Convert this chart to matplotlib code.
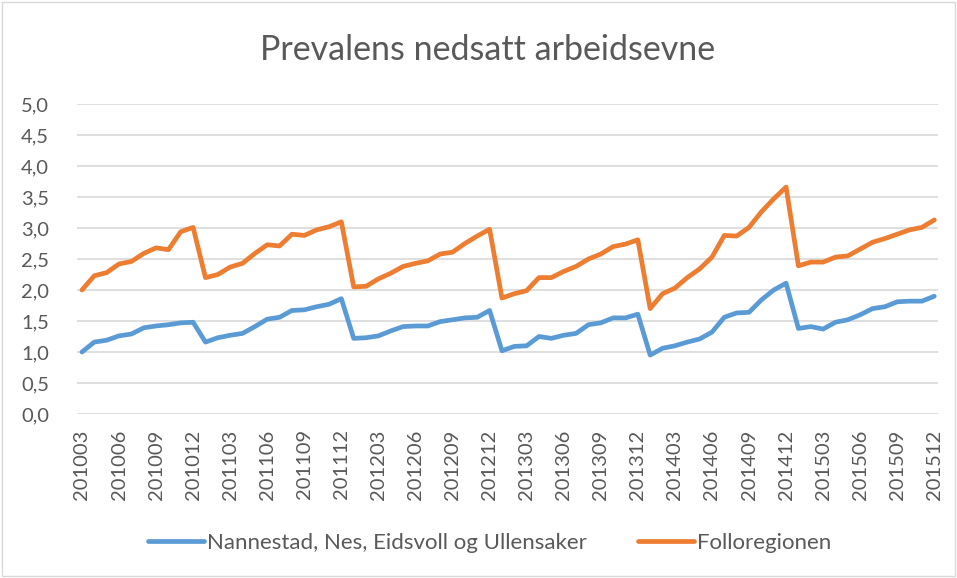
import matplotlib
matplotlib.use("Agg")
import matplotlib.pyplot as plt
from matplotlib.patches import Rectangle

# months 201003 .. 201512
months = []
for y in range(2010, 2016):
    for m in range(1, 13):
        if y == 2010 and m < 3:
            continue
        months.append(f"{y}{m:02d}")

nannestad = [1.00, 1.16, 1.19, 1.26, 1.29, 1.39, 1.42, 1.44, 1.47, 1.48,
             1.16, 1.23, 1.27, 1.30, 1.41, 1.53, 1.56, 1.67, 1.68, 1.73,
             1.77, 1.86, 1.22, 1.23, 1.26, 1.34, 1.41, 1.42, 1.42, 1.49,
             1.52, 1.55, 1.56, 1.67, 1.02, 1.09, 1.10, 1.25, 1.22, 1.27,
             1.30, 1.44, 1.47, 1.55, 1.55, 1.61, 0.95, 1.06, 1.10, 1.16,
             1.21, 1.32, 1.56, 1.63, 1.64, 1.84, 2.00, 2.11, 1.38, 1.41,
             1.37, 1.48, 1.52, 1.60, 1.70, 1.73, 1.81, 1.82, 1.82, 1.90]

follo = [2.00, 2.23, 2.28, 2.42, 2.46, 2.59, 2.68, 2.65, 2.94, 3.01,
         2.20, 2.25, 2.37, 2.43, 2.59, 2.73, 2.71, 2.90, 2.88, 2.97,
         3.02, 3.10, 2.05, 2.06, 2.18, 2.27, 2.38, 2.43, 2.47, 2.58,
         2.61, 2.75, 2.87, 2.98, 1.87, 1.94, 1.99, 2.20, 2.20, 2.30,
         2.38, 2.50, 2.58, 2.70, 2.74, 2.81, 1.70, 1.94, 2.03, 2.20,
         2.34, 2.53, 2.88, 2.87, 3.01, 3.26, 3.47, 3.66, 2.39, 2.45,
         2.45, 2.53, 2.55, 2.66, 2.77, 2.83, 2.90, 2.97, 3.01, 3.13]

series_names = ["Nannestad, Nes, Eidsvoll og Ullensaker", "Folloregionen"]
colors = ["#5b9bd5", "#ed7d31"]
title = "Prevalens nedsatt arbeidsevne"
yticks = [0.0, 0.5, 1.0, 1.5, 2.0, 2.5, 3.0, 3.5, 4.0, 4.5, 5.0]

plt.rcParams['font.family'] = ['Lato', 'DejaVu Sans']
W, H = 957, 578
fig = plt.figure(figsize=(W / 100, H / 100), dpi=100)
ax = fig.add_axes([77 / W, 1 - 414 / H, (938 - 77) / W, (414 - 104) / H])

x = list(range(len(months)))
for vals, name, c in zip([nannestad, follo], series_names, colors):
    ax.plot(x, vals, color=c, lw=3.4, label=name, solid_joinstyle='round',
            solid_capstyle='round')

ax.set_ylim(0, 5)
ax.set_xlim(-0.4, len(months) - 1 + 0.3)
ax.set_yticks(yticks)
ax.set_yticklabels([f"{v:.1f}".replace(".", ",") for v in yticks])
ax.set_xticks(x[::3])
ax.set_xticklabels(months[::3], rotation=90)
ax.grid(axis='y', color='#d9d9d9', lw=1.2)
ax.set_axisbelow(True)
for s in ax.spines.values():
    s.set_visible(False)
ax.tick_params(axis='both', length=0, colors='#595959', labelsize=14.5)
ax.tick_params(axis='x', pad=11)
ax.tick_params(axis='y', pad=20)

fig.text(488 / W, 1 - 50 / H, title, ha='center', va='center', fontsize=24.5,
         color='#595959')

handles, labels = ax.get_legend_handles_labels()
fig.legend(handles, labels, loc='center', bbox_to_anchor=(490 / W, 1 - 543 / H),
           ncol=2, frameon=False, fontsize=16, labelcolor='#595959',
           handlelength=2.5, handletextpad=0.15, columnspacing=2.3)

fig.patches.append(Rectangle((2 / W, 2 / H), 1 - 4 / W, 1 - 4 / H,
                             transform=fig.transFigure, fill=False,
                             edgecolor='#d9d9d9', lw=1))

fig.savefig("out.png", dpi=100)
